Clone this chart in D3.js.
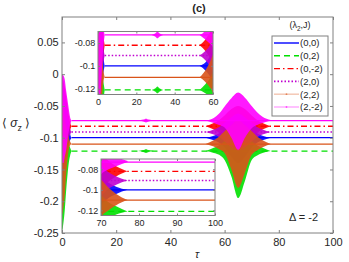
<!DOCTYPE html>
<html>
<head>
<meta charset="utf-8">
<script src="https://cdn.jsdelivr.net/npm/d3@7"></script>
<style>
  body { margin: 0; background: #fff; }
  svg { display: block; font-family: "Liberation Sans", Arial, sans-serif; }
</style>
</head>
<body>
<svg id="chart" width="349" height="262"></svg>
<script>
// Series (lambda2, J)
var seriesNames = ['(0,0)', '(0,2)', '(0,-2)', '(2,0)', '(2,2)', '(2,-2)'];
var steadyVals = [-0.100, -0.121, -0.082, -0.091, -0.110, -0.073];

// Initial transient envelope (upper / lower)
var initT = [0, 0.1, 0.5, 1, 1.5, 2, 2.5, 3, 3.5];
var initUp = [
  [0, -0.01, -0.02, -0.035, -0.05, -0.065, -0.08, -0.094, -0.100],
  [0, -0.05, -0.07, -0.09, -0.10, -0.105, -0.11, -0.116, -0.121],
  [0, 0, -0.01, -0.02, -0.035, -0.05, -0.065, -0.076, -0.082],
  [0, -0.005, -0.015, -0.028, -0.045, -0.06, -0.075, -0.086, -0.091],
  [0, -0.03, -0.05, -0.07, -0.08, -0.09, -0.10, -0.106, -0.110],
  [0, 0, -0.002, -0.008, -0.025, -0.04, -0.055, -0.068, -0.073]
];
var initLo = [
  [0, -0.17, -0.165, -0.15, -0.135, -0.12, -0.11, -0.104, -0.100],
  [0, -0.245, -0.235, -0.215, -0.185, -0.16, -0.14, -0.128, -0.121],
  [0, -0.16, -0.15, -0.14, -0.12, -0.105, -0.095, -0.088, -0.082],
  [0, -0.16, -0.155, -0.145, -0.125, -0.11, -0.10, -0.095, -0.091],
  [0, -0.22, -0.21, -0.19, -0.16, -0.135, -0.118, -0.112, -0.110],
  [0, -0.14, -0.14, -0.13, -0.12, -0.105, -0.09, -0.08, -0.073]
];

// Small bump near tau = 31
var bumpT = [28, 30, 31, 32, 34];
var bumpUp = [
  null,
  [-0.121, -0.1195, -0.118, -0.1195, -0.121],
  null, null, null,
  [-0.073, -0.0715, -0.070, -0.0715, -0.073]
];
var bumpLo = [
  null,
  [-0.121, -0.1225, -0.124, -0.1225, -0.121],
  null, null, null,
  [-0.073, -0.0745, -0.076, -0.0745, -0.073]
];

// Revival around tau = 65
var revT = [53, 56, 58, 60, 62.5, 65, 67.5, 70, 72, 74, 77];
var revUp = [
  [-0.100, -0.097, -0.093, -0.087, -0.080, -0.075, -0.080, -0.087, -0.093, -0.097, -0.100],
  [-0.121, -0.116, -0.112, -0.105, -0.095, -0.085, -0.095, -0.105, -0.112, -0.116, -0.121],
  [-0.082, -0.077, -0.072, -0.065, -0.055, -0.050, -0.055, -0.065, -0.072, -0.077, -0.082],
  [-0.091, -0.087, -0.083, -0.076, -0.068, -0.062, -0.068, -0.076, -0.083, -0.087, -0.091],
  [-0.110, -0.104, -0.098, -0.090, -0.080, -0.072, -0.080, -0.090, -0.098, -0.104, -0.110],
  [-0.073, -0.069, -0.062, -0.051, -0.038, -0.029, -0.037, -0.050, -0.060, -0.067, -0.072]
];
var revLo = [
  [-0.100, -0.104, -0.108, -0.115, -0.130, -0.140, -0.130, -0.115, -0.108, -0.104, -0.100],
  [-0.121, -0.124, -0.127, -0.135, -0.161, -0.195, -0.168, -0.135, -0.128, -0.124, -0.121],
  [-0.082, -0.087, -0.092, -0.100, -0.110, -0.115, -0.110, -0.100, -0.092, -0.087, -0.082],
  [-0.091, -0.095, -0.099, -0.106, -0.115, -0.120, -0.115, -0.106, -0.099, -0.095, -0.091],
  [-0.110, -0.114, -0.118, -0.124, -0.150, -0.179, -0.155, -0.127, -0.120, -0.115, -0.110],
  [-0.073, -0.077, -0.080, -0.084, -0.100, -0.119, -0.100, -0.085, -0.080, -0.077, -0.073]
];

// Ticks
var xTicks = [0, 20, 40, 60, 80, 100];
var yTicks = [0.05, 0, -0.05, -0.1, -0.15, -0.2, -0.25];
var yTickLabels = ['0.05', '0', '-0.05', '-0.1', '-0.15', '-0.2', '-0.25'];
var inset1XTicks = [0, 20, 40, 60];
var inset2XTicks = [70, 80, 90, 100];
var insetYTicks = [-0.08, -0.1, -0.12];
var insetYTickLabels = ['-0.08', '-0.1', '-0.12'];

// Estilos
var colors = ['#0000ff', '#00e000', '#ff0000', '#c000d0', '#d95319', '#ff00ff'];
var dashes = [null, '6,4', '6,3,1.5,3', '1.5,2', null, null];
var boxColor = '#808080';

var svg = d3.select('#chart');

/**
 * Dibuja las series dentro de un panel
 */
function drawSeries(g, x, y) {
  var area = d3.area()
    .x(function (d) { return x(d[0]); })
    .y0(function (d) { return y(d[1]); })
    .y1(function (d) { return y(d[2]); })
    .curve(d3.curveMonotoneX);
  var line = d3.line()
    .x(function (d) { return x(d[0]); })
    .y(function (d) { return y(d[1]); });

  function band(i, T, up, lo) {
    var pts = T.map(function (t, k) { return [t, up[k], lo[k]]; });
    g.append('path')
      .attr('d', area(pts))
      .attr('fill', colors[i])
      .attr('fill-opacity', 0.9);
  }

  for (var i = 0; i < seriesNames.length; i++) {
    var tStart = initT[initT.length - 1];
    g.append('path')
      .attr('d', line([[tStart, steadyVals[i]], [100, steadyVals[i]]]))
      .attr('fill', 'none')
      .attr('stroke', colors[i])
      .attr('stroke-width', i === 3 ? 1.6 : 1.3)
      .attr('stroke-dasharray', dashes[i]);
    band(i, initT, initUp[i], initLo[i]);
    if (bumpUp[i]) band(i, bumpT, bumpUp[i], bumpLo[i]);
    band(i, revT, revUp[i], revLo[i]);
  }
}

/**
 * Marco con ticks hacia dentro en los cuatro lados
 */
function drawFrame(g, x, y, xt, yt, ytLabels, fs, tick) {
  var w = x.range()[1] - x.range()[0];
  var h = y.range()[0] - y.range()[1];
  var x0 = x.range()[0], y0 = y.range()[1];

  g.append('g')
    .attr('transform', 'translate(0,' + (y0 + h) + ')')
    .call(d3.axisBottom(x).tickValues(xt).tickSize(-tick).tickPadding(fs * 0.45).tickFormat(d3.format('d')));
  g.append('g')
    .attr('transform', 'translate(0,' + y0 + ')')
    .call(d3.axisTop(x).tickValues(xt).tickSize(-tick).tickFormat(''));
  g.append('g')
    .attr('transform', 'translate(' + x0 + ',0)')
    .call(d3.axisLeft(y).tickValues(yt).tickSize(-tick).tickPadding(fs * 0.3)
      .tickFormat(function (d, k) { return ytLabels[k]; }));
  g.append('g')
    .attr('transform', 'translate(' + (x0 + w) + ',0)')
    .call(d3.axisRight(y).tickValues(yt).tickSize(-tick).tickFormat(''));

  g.selectAll('.domain').remove();
  g.selectAll('.tick line').attr('stroke', boxColor);
  g.selectAll('.tick text').attr('fill', '#262626').style('font-size', fs + 'px')
    .style('font-family', '"Liberation Sans", Arial, sans-serif');

  g.append('rect')
    .attr('x', x0).attr('y', y0).attr('width', w).attr('height', h)
    .attr('fill', 'none').attr('stroke', boxColor).attr('stroke-width', 1);
}

// Panel principal
var mx = d3.scaleLinear().domain([0, 100]).range([62, 333]);
var my = d3.scaleLinear().domain([-0.25, 0.09]).range([233, 17]);

svg.append('clipPath').attr('id', 'clipMain')
  .append('rect').attr('x', 62).attr('y', 17).attr('width', 271).attr('height', 216);

var mainG = svg.append('g');
drawSeries(mainG.append('g').attr('clip-path', 'url(#clipMain)'), mx, my);
drawFrame(mainG.append('g'), mx, my, xTicks, yTicks, yTickLabels, 11, 3);

// Insets
function drawInset(id, xDom, xRange, yRange, xt) {
  var x = d3.scaleLinear().domain(xDom).range(xRange);
  var y = d3.scaleLinear().domain([-0.125, -0.07]).range(yRange);
  var g = svg.append('g');
  g.append('rect')
    .attr('x', xRange[0]).attr('y', yRange[1])
    .attr('width', xRange[1] - xRange[0]).attr('height', yRange[0] - yRange[1])
    .attr('fill', '#fff');
  svg.append('clipPath').attr('id', id)
    .append('rect')
    .attr('x', xRange[0]).attr('y', yRange[1])
    .attr('width', xRange[1] - xRange[0]).attr('height', yRange[0] - yRange[1]);
  drawSeries(g.append('g').attr('clip-path', 'url(#' + id + ')'), x, y);
  drawFrame(g.append('g'), x, y, xt, insetYTicks, insetYTickLabels, 9, 2);
}

drawInset('clipIn1', [0, 60], [98, 213], [94.5, 31.5], inset1XTicks);
drawInset('clipIn2', [70, 100], [101, 215], [215.5, 159], inset2XTicks);

// Leyenda
var legG = svg.append('g');
legG.append('rect')
  .attr('x', 272).attr('y', 36).attr('width', 56).attr('height', 80)
  .attr('fill', '#fff').attr('stroke', boxColor);

var legTitle = legG.append('text')
  .attr('x', 300).attr('y', 28)
  .attr('text-anchor', 'middle')
  .style('font-size', '9px')
  .attr('fill', '#262626');
legTitle.append('tspan').text('(λ');
legTitle.append('tspan').attr('dy', 2.5).style('font-size', '6.5px').text('2');
legTitle.append('tspan').attr('dy', -2.5).text(',J)');

var legend = legG.selectAll('.legend')
  .data(seriesNames)
  .enter()
  .append('g')
  .attr('class', 'legend')
  .attr('transform', function (d, i) { return 'translate(0,' + (43 + i * 12.8) + ')'; });

legend.append('line')
  .attr('x1', 274).attr('x2', 299)
  .attr('stroke', function (d, i) { return colors[i]; })
  .attr('stroke-width', function (d, i) { return i === 3 ? 1.8 : 1.4; })
  .attr('stroke-opacity', function (d, i) { return i >= 4 ? 0.35 : 1; })
  .attr('stroke-dasharray', function (d, i) { return dashes[i]; });

legend.filter(function (d, i) { return i >= 4; })
  .append('circle')
  .attr('cx', 286.5).attr('r', 0.9)
  .attr('fill', function (d, i) { return colors[i + 4]; })
  .attr('fill-opacity', 0.6);

legend.append('text')
  .attr('x', 300).attr('dy', '0.35em')
  .style('font-size', '9.5px')
  .attr('fill', '#262626')
  .text(function (d) { return d; });

// Textos
svg.append('text')
  .attr('x', 199).attr('y', 12)
  .attr('text-anchor', 'middle')
  .style('font-size', '11px').style('font-weight', 'bold')
  .attr('fill', '#262626')
  .text('(c)');

svg.append('text')
  .attr('x', 289).attr('y', 221)
  .style('font-size', '11px')
  .attr('fill', '#262626')
  .text('Δ = -2');

svg.append('text')
  .attr('x', 197).attr('y', 258)
  .attr('text-anchor', 'middle')
  .style('font-size', '11px').style('font-style', 'italic')
  .attr('fill', '#262626')
  .text('τ');

var yLab = svg.append('text')
  .attr('x', 2).attr('y', 127)
  .style('font-size', '12px')
  .attr('fill', '#262626');
yLab.append('tspan').text('⟨ ');
yLab.append('tspan').style('font-style', 'italic').text('σ');
yLab.append('tspan').attr('dy', 4).style('font-size', '9px').text('z');
yLab.append('tspan').attr('dy', -4).text(' ⟩');
</script>
</body>
</html>
